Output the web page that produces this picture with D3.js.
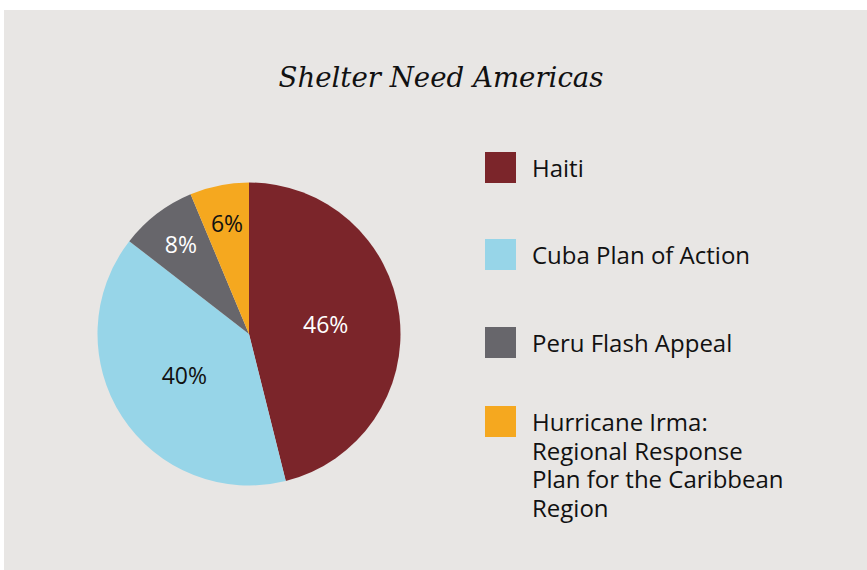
<!DOCTYPE html>
<html><head><meta charset="utf-8">
<script src="https://cdn.jsdelivr.net/npm/d3@7"></script>
<style>
html,body{margin:0;padding:0;background:#fff;}
svg{display:block;}
</style></head>
<body>
<svg id="chart" width="867" height="570"></svg>
<script>
const title = "Shelter Need Americas";
const categories = ["Haiti", "Cuba Plan of Action", "Peru Flash Appeal", "Hurricane Irma: Regional Response Plan for the Caribbean Region"];
const legendLines = [["Haiti"], ["Cuba Plan of Action"], ["Peru Flash Appeal"], ["Hurricane Irma:", "Regional Response", "Plan for the Caribbean", "Region"]];
const values = [46.1, 39.4, 8.2, 6.3];
const labels = ["46%", "40%", "8%", "6%"];
const colors = ["#7b252a", "#97d5e8", "#67666b", "#f5a81f"];
const labelColors = ["#ffffff", "#111111", "#ffffff", "#111111"];

const svg = d3.select("#chart");
svg.append("rect").attr("x", 4).attr("y", 10).attr("width", 863).attr("height", 560).attr("fill", "#e8e6e4");

svg.append("text").attr("x", 441).attr("y", 87).attr("text-anchor", "middle")
  .attr("font-family", "'DejaVu Serif', serif").attr("font-style", "italic")
  .attr("font-size", 27.6).attr("fill", "#111").text(title);

const cx = 249, cy = 334, r = 151.5;
const pie = d3.pie().sort(null).value(d => d);
const arcs = pie(values);
const arc = d3.arc().innerRadius(0).outerRadius(r);
const g = svg.append("g").attr("transform", `translate(${cx},${cy})`);
g.selectAll("path").data(arcs).join("path").attr("d", arc).attr("fill", (d, i) => colors[i]);

const inner = d3.arc().innerRadius(0).outerRadius(r * 1.02);
const outer = d3.arc().innerRadius(r * 0.74).outerRadius(r * 0.74);
g.selectAll("text.lab").data(arcs).join("text").attr("class", "lab")
  .attr("transform", d => {
    const c = (d.endAngle - d.startAngle) > 1 ? inner.centroid(d) : outer.centroid(d);
    return `translate(${c[0]},${c[1]})`;
  })
  .attr("text-anchor", "middle").attr("dy", "0.36em")
  .attr("font-family", "'Open Sans', sans-serif").attr("font-size", 23)
  .attr("fill", (d, i) => labelColors[i]).text((d, i) => labels[i]);

const legendY = [152, 239, 327, 406];
const lg = svg.append("g");
categories.forEach((c, i) => {
  const row = lg.append("g").attr("transform", `translate(485,${legendY[i]})`);
  row.append("rect").attr("width", 31).attr("height", 31).attr("fill", colors[i]);
  const t = row.append("text").attr("x", 47).attr("y", 25)
    .attr("font-family", "'Open Sans', sans-serif").attr("font-size", 24).attr("fill", "#111");
  legendLines[i].forEach((ln, j) => {
    t.append("tspan").attr("x", 47).attr("dy", j === 0 ? 0 : 28.5).text(ln);
  });
});
</script>
</body></html>
